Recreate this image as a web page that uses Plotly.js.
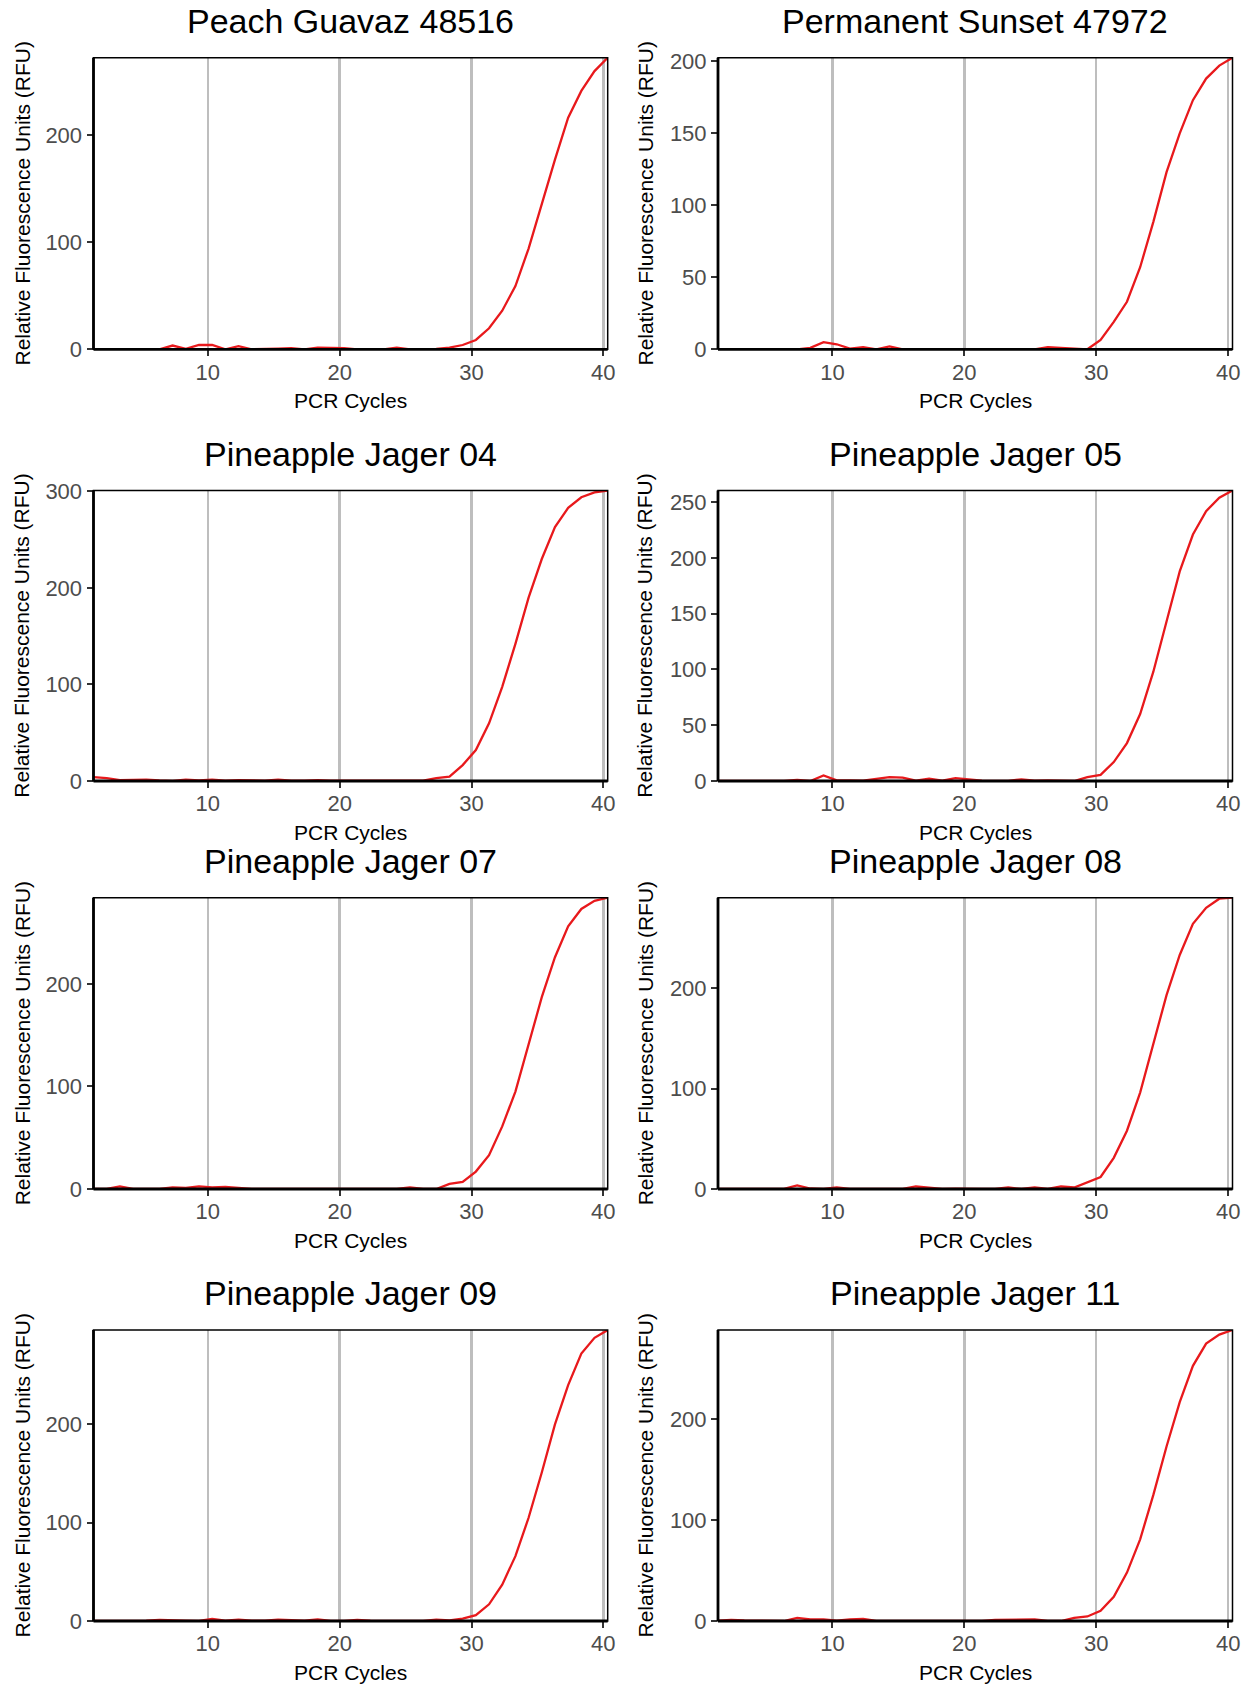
<!DOCTYPE html>
<html>
<head>
<meta charset="utf-8">
<script src="https://cdn.plot.ly/plotly-3.0.1.min.js"></script>
<style>
  html, body { margin: 0; padding: 0; background: #ffffff; }
  #chart { width: 1252px; height: 1687px; }
</style>
</head>
<body>
<div id="chart"></div>
<script>
// ---- Data ----
const panelTitles = [
  "Peach Guavaz 48516", "Permanent Sunset 47972",
  "Pineapple Jager 04", "Pineapple Jager 05",
  "Pineapple Jager 07", "Pineapple Jager 08",
  "Pineapple Jager 09", "Pineapple Jager 11"
];
const xTitle = "PCR Cycles";
const yTitle = "Relative Fluorescence Units (RFU)";
const xTickVals = [10, 20, 30, 40];
const xTickLabels = ["10", "20", "30", "40"];
const yTickStep = [100, 50, 100, 50, 100, 100, 100, 100];

const cycles = [1.33, 2.33, 3.33, 4.33, 5.33, 6.33, 7.33, 8.33, 9.33, 10.33,
  11.33, 12.33, 13.33, 14.33, 15.33, 16.33, 17.33, 18.33, 19.33, 20.33,
  21.33, 22.33, 23.33, 24.33, 25.33, 26.33, 27.33, 28.33, 29.33, 30.33,
  31.33, 32.33, 33.33, 34.33, 35.33, 36.33, 37.33, 38.33, 39.33, 40.33];

const peachGuavaz48516 = [0, 0, 0, 0, 0, 0, 3.5, 0.5, 4, 4,
  0, 3, 0, 0, 0.5, 1, 0, 1.5, 1.5, 1,
  0, 0.3, 0, 1.5, 0, 0, 0.3, 1.5, 4, 8.7,
  19.6, 36, 59, 94, 136, 177, 216, 241, 259.5, 272];
const permanentSunset47972 = [0, 0, 0, 0, 0, 0, 0, 1, 5, 3.5,
  0.5, 1.5, 0, 2, 0, 0, 0, 0.5, 0, 0,
  0, 0, 0.3, 0, 0, 1.5, 1, 0.5, 0, 6.5,
  19, 33, 57, 88.5, 123, 150, 173, 188, 197, 202.5];
const pineappleJager04 = [4, 3, 1, 1.5, 1.5, 0.5, 0, 1.5, 0.5, 1.5,
  0.3, 1, 0.3, 0.3, 1.5, 0.3, 0.3, 1, 0.3, 0.3,
  0.5, 0, 0.5, 0, 0, 0.3, 3, 4.5, 16.5, 32,
  59.7, 97.6, 142, 190, 230, 263, 283, 294, 299, 301];
const pineappleJager05 = [0, 0, 0, 0, 0.5, 0, 1, 0, 5, 0.5,
  0.5, 0.3, 2, 3.5, 3, 0.3, 2, 0.3, 2.5, 1.5,
  0.3, 0, 0, 1.5, 0.3, 0.5, 0.3, 0, 3.5, 5.5,
  17, 34, 60, 98, 143, 188, 221, 242, 254, 260.5];
const pineappleJager07 = [0, 0, 2.5, 0, 0, 0, 1.5, 1, 2.5, 1.5,
  2, 1, 0, 0, 0, 0, 0, 0.3, 0, 0,
  0, 0.5, 0, 0, 1.5, 0, 0, 5, 7, 17,
  33, 61, 95, 140, 187, 226, 256, 273, 281, 284];
const pineappleJager08 = [0, 0, 0, 0.3, 0.5, 0.2, 3.5, 0.5, 0, 1.5,
  0, 0, 0, 0, 0, 2.5, 1, 0, 0.3, 0.5,
  0, 0, 1.5, 0, 1.5, 0, 2.5, 1.5, 6.5, 12,
  31, 58, 96, 145, 193, 233, 264, 280, 289, 290];
const pineappleJager09 = [0, 0, 0, 0, 0.3, 1, 1, 0.3, 0, 2,
  0.3, 1.5, 0.3, 0.3, 1.5, 1, 0.3, 1.5, 0, 0,
  1, 0.3, 0, 0, 0, 0, 1.5, 0.5, 2.5, 6,
  17, 37, 66, 105, 151, 200, 240, 272, 288, 296];
const pineappleJager11 = [0.3, 1, 0.5, 0.3, 0, 0, 3, 1.5, 1.5, 0.3,
  1.5, 2, 0, 0, 0, 0.5, 0, 0, 0.3, 0,
  0, 1, 1, 1.5, 1.5, 0, 0, 3, 4.5, 10,
  24, 48, 81, 125, 173, 217, 253, 275, 284, 288.5];

const series = [peachGuavaz48516, permanentSunset47972, pineappleJager04, pineappleJager05,
  pineappleJager07, pineappleJager08, pineappleJager09, pineappleJager11];

// ---- Layout geometry (pixels) ----
const W = 1252, H = 1687;
const colsX = [[93.5, 607.7], [718, 1232.5]];
const yTitleX = [22, 645];
const rowsY = [[57.7, 349.3], [490.5, 781], [897.7, 1189], [1330, 1621]];
const FONT = "Liberation Sans, Arial, Helvetica, sans-serif";
const RED = "#e8191c";

const traces = [];
const layout = {
  width: W, height: H,
  margin: {l: 0, r: 0, t: 0, b: 0},
  paper_bgcolor: "#ffffff",
  plot_bgcolor: "#ffffff",
  showlegend: false,
  font: {family: FONT},
  annotations: [],
  shapes: []
};

series.forEach((vals, i) => {
  const n = i + 1;
  const r = Math.floor(i / 2), c = i % 2;
  const [x0, x1] = colsX[c];
  const [y0, y1] = rowsY[r];
  const xa = "xaxis" + (n === 1 ? "" : n);
  const ya = "yaxis" + (n === 1 ? "" : n);
  const xr = "x" + (n === 1 ? "" : n);
  const yr = "y" + (n === 1 ? "" : n);
  const yMax = Math.max(...vals);
  const yMin = Math.min(0, ...vals);

  traces.push({
    x: cycles, y: vals, xaxis: xr, yaxis: yr,
    type: "scatter", mode: "lines",
    line: {color: RED, width: 2.3},
    hoverinfo: "skip"
  });

  layout[xa] = {
    domain: [x0 / W, x1 / W], anchor: yr,
    range: [cycles[0], cycles[cycles.length - 1]],
    tickmode: "array", tickvals: xTickVals, ticktext: xTickLabels,
    showgrid: true, gridcolor: "#bebebe", gridwidth: 2.5,
    zeroline: false, showline: false,
    ticks: "outside", ticklen: 6, tickwidth: 2, tickcolor: "#333333",
    ticklabelstandoff: -3,
    tickfont: {size: 22, color: "#4d4d4d", family: FONT},
    fixedrange: true
  };
  layout[ya] = {
    domain: [1 - y1 / H, 1 - y0 / H], anchor: xr,
    range: [yMin, yMax],
    tick0: 0, dtick: yTickStep[i],
    showgrid: false, zeroline: false, showline: false,
    ticks: "outside", ticklen: 6, tickwidth: 2, tickcolor: "#333333",
    tickfont: {size: 22, color: "#4d4d4d", family: FONT},
    fixedrange: true
  };

  // panel border and thick axis lines on top of the data
  layout.shapes.push({type: "rect", xref: xr + " domain", yref: yr + " domain",
    x0: 0, x1: 1, y0: 0, y1: 1, line: {color: "#000000", width: 1.5}, layer: "above"});
  layout.shapes.push({type: "line", xref: xr + " domain", yref: yr + " domain",
    x0: 0, x1: 1, y0: 0, y1: 0, line: {color: "#000000", width: 2.8}, layer: "above"});
  layout.shapes.push({type: "line", xref: xr + " domain", yref: yr + " domain",
    x0: 0, x1: 0, y0: 0, y1: 1, line: {color: "#000000", width: 2.8}, layer: "above"});

  const cx = (x0 + x1) / 2 / W;
  // panel title
  layout.annotations.push({
    text: panelTitles[i], xref: "paper", yref: "paper",
    x: cx, y: 1 - (y0 - 16) / H, xanchor: "center", yanchor: "bottom",
    showarrow: false, font: {size: 34, color: "#000000", family: FONT}
  });
  // x axis title
  layout.annotations.push({
    text: xTitle, xref: "paper", yref: "paper",
    x: cx, y: 1 - (y1 + 38) / H, xanchor: "center", yanchor: "top",
    showarrow: false, font: {size: 21, color: "#000000", family: FONT}
  });
  // y axis title
  layout.annotations.push({
    text: yTitle, xref: "paper", yref: "paper",
    x: yTitleX[c] / W, y: 1 - ((y0 + y1) / 2) / H,
    xanchor: "center", yanchor: "middle", textangle: -90,
    showarrow: false, font: {size: 21, color: "#000000", family: FONT}
  });
});

Plotly.newPlot("chart", traces, layout, {staticPlot: true, displayModeBar: false});
</script>
</body>
</html>
